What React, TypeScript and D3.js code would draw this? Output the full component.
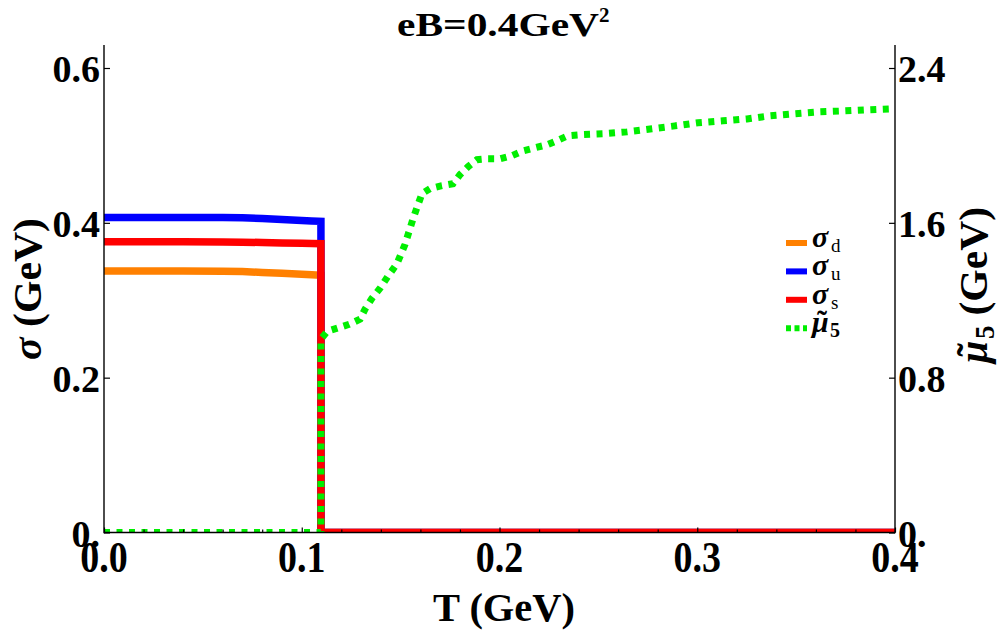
import { useEffect, useRef } from 'react';
import * as d3 from 'd3';

// sigma curves (GeV) versus T (GeV); the drop at Tc is drawn as a vertical step
const T_SIGMA = [0, 0.02, 0.04, 0.06, 0.07, 0.08, 0.09, 0.1, 0.105, 0.1097, 0.1097, 0.4];
const SIGMA_D = [0.3377, 0.3377, 0.3377, 0.3376, 0.337, 0.336, 0.3348, 0.3335, 0.3328, 0.3322, 0, 0];
const SIGMA_U = [0.407, 0.407, 0.407, 0.407, 0.4066, 0.4055, 0.4043, 0.403, 0.4025, 0.402, 0, 0];
const SIGMA_S = [0.3755, 0.3755, 0.3755, 0.3754, 0.375, 0.3746, 0.3741, 0.3736, 0.3733, 0.373, 0, 0];

// mu5 tilde (GeV) versus T (GeV)
const T_MU = [
  0, 0.1097, 0.1097, 0.113, 0.118, 0.124, 0.1295, 0.132, 0.1355, 0.1396, 0.1436, 0.1482, 0.1522, 0.1563, 0.1588,
  0.1608, 0.1649, 0.1709, 0.1765, 0.18, 0.1841, 0.1886, 0.1942, 0.2003, 0.2063, 0.2119, 0.218, 0.224, 0.229, 0.2346,
  0.2407, 0.2523, 0.2645, 0.2771, 0.2887, 0.3004, 0.313, 0.3252, 0.3368, 0.3484, 0.3611, 0.3737, 0.3858, 0.4,
];
const MU_5 = [
  0, 0, 1.0, 1.04, 1.056, 1.076, 1.102, 1.154, 1.21, 1.262, 1.324, 1.39, 1.488, 1.622, 1.694, 1.751, 1.777, 1.792,
  1.802, 1.849, 1.89, 1.926, 1.931, 1.931, 1.947, 1.972, 1.988, 2.003, 2.024, 2.05, 2.055, 2.06, 2.07, 2.086, 2.101,
  2.117, 2.127, 2.137, 2.153, 2.163, 2.173, 2.178, 2.184, 2.19,
];

const X_TICKS = [0, 0.1, 0.2, 0.3, 0.4];
const X_TICK_LABELS = ['0.0', '0.1', '0.2', '0.3', '0.4'];
const X_MINOR_TICKS = [0.02, 0.04, 0.06, 0.08, 0.12, 0.14, 0.16, 0.18, 0.22, 0.24, 0.26, 0.28, 0.32, 0.34, 0.36, 0.38];
const SIGMA_TICKS = [0, 0.2, 0.4, 0.6];
const SIGMA_TICK_LABELS = ['0.', '0.2', '0.4', '0.6'];
const MU_TICKS = [0, 0.8, 1.6, 2.4];
const MU_TICK_LABELS = ['0.', '0.8', '1.6', '2.4'];

const FONT = "'Liberation Serif', 'Times New Roman', serif";
const GREEN = '#00ee00';

type TextParent = d3.Selection<SVGGElement, unknown, null, undefined>;

// mu with a tilde placed above it, then a subscript; returns the x where the subscript ends
function drawMuTilde(parent: TextParent, x0: number, size: number, subSize: number, subDy: number, sub: string) {
  parent.append('text').attr('x', x0).attr('y', 0).attr('font-size', size).attr('font-style', 'italic').text('μ');
  parent
    .append('text')
    .attr('x', x0 + size * 0.33)
    .attr('y', -size * 0.05)
    .attr('text-anchor', 'middle')
    .attr('font-size', size)
    .text('˜');
  parent
    .append('text')
    .attr('x', x0 + size * 0.6)
    .attr('y', subDy)
    .attr('font-size', subSize)
    .text(sub);
  return x0 + size * 0.6 + subSize * 0.5;
}

export default function App() {
  const svgRef = useRef<SVGSVGElement | null>(null);

  useEffect(() => {
    const svgElement = svgRef.current;
    if (!svgElement) {
      return;
    }
    const svg = d3.select(svgElement);
    svg.selectAll('*').remove();

    const left = 104;
    const right = 895;
    const top = 45;
    const bottom = 532.5;

    const x = d3.scaleLinear().domain([0, 0.4]).range([left, right]);
    const ySigma = d3.scaleLinear().domain([0, 0.6]).range([bottom, 68]);
    const yMu = d3.scaleLinear().domain([0, 2.4]).range([bottom, 68]);

    svg
      .append('defs')
      .append('clipPath')
      .attr('id', 'plot-clip')
      .append('rect')
      .attr('x', left)
      .attr('y', top)
      .attr('width', right - left)
      .attr('height', bottom - top);

    const plot = svg.append('g').attr('clip-path', 'url(#plot-clip)');

    const sigmaLine = d3
      .line<number>()
      .x((_, i) => x(T_SIGMA[i]))
      .y((d) => ySigma(d));
    const muLine = d3
      .line<number>()
      .x((_, i) => x(T_MU[i]))
      .y((d) => yMu(d));

    const series = [
      { key: 'd', color: '#ff8000', values: SIGMA_D },
      { key: 'u', color: '#0000ff', values: SIGMA_U },
      { key: 's', color: '#ff0000', values: SIGMA_S },
    ];

    plot
      .selectAll('path.sigma')
      .data(series)
      .join('path')
      .attr('class', 'sigma')
      .attr('fill', 'none')
      .attr('stroke', (d) => d.color)
      .attr('stroke-width', 7.5)
      .attr('d', (d) => sigmaLine(d.values));

    plot
      .append('path')
      .attr('fill', 'none')
      .attr('stroke', GREEN)
      .attr('stroke-width', 7)
      .attr('stroke-dasharray', '6 6.5')
      .attr('d', muLine(MU_5));

    // axes
    const axisColor = '#000';
    const frame = svg.append('g').attr('stroke', axisColor).attr('stroke-width', 1.4);
    frame.append('line').attr('x1', left).attr('x2', left).attr('y1', top).attr('y2', bottom + 0.7);
    frame.append('line').attr('x1', right).attr('x2', right).attr('y1', top).attr('y2', bottom + 0.7);
    frame.append('line').attr('x1', left).attr('x2', right).attr('y1', bottom).attr('y2', bottom);

    const tickGroup = (axis: d3.Axis<d3.NumberValue>, transform: string) => {
      const g = svg.append('g').attr('transform', transform).call(axis);
      g.select('.domain').remove();
      g.selectAll('text').remove();
      g.selectAll('line').attr('stroke', axisColor).attr('stroke-width', 1.2);
      return g;
    };

    tickGroup(d3.axisLeft(ySigma).tickValues(SIGMA_TICKS).tickSize(-6), `translate(${left},0)`);
    tickGroup(d3.axisRight(yMu).tickValues(MU_TICKS).tickSize(-6), `translate(${right},0)`);
    tickGroup(d3.axisBottom(x).tickValues(X_TICKS).tickSize(-5), `translate(0,${bottom})`);
    tickGroup(d3.axisBottom(x).tickValues(X_MINOR_TICKS).tickSize(-3), `translate(0,${bottom})`);

    const labels = svg.append('g').attr('font-family', FONT).attr('font-weight', 'bold').attr('fill', '#000');

    labels
      .selectAll('text.y-left')
      .data(SIGMA_TICKS)
      .join('text')
      .attr('class', 'y-left')
      .attr('x', left - 4)
      .attr('y', (d) => ySigma(d) + 14)
      .attr('text-anchor', 'end')
      .attr('font-size', 38)
      .text((_, i) => SIGMA_TICK_LABELS[i]);

    labels
      .selectAll('text.y-right')
      .data(MU_TICKS)
      .join('text')
      .attr('class', 'y-right')
      .attr('x', right + 3)
      .attr('y', (d) => yMu(d) + 14)
      .attr('text-anchor', 'start')
      .attr('font-size', 38)
      .text((_, i) => MU_TICK_LABELS[i]);

    labels
      .selectAll('text.x-tick')
      .data(X_TICKS)
      .join('text')
      .attr('class', 'x-tick')
      .attr('transform', (d) => `translate(${x(d)},572) scale(1,1.15)`)
      .attr('text-anchor', 'middle')
      .attr('font-size', 38)
      .text((_, i) => X_TICK_LABELS[i]);

    // title
    labels
      .append('text')
      .attr('x', 397)
      .attr('y', 36)
      .attr('font-size', 34)
      .attr('textLength', 202)
      .attr('lengthAdjust', 'spacingAndGlyphs')
      .text('eB=0.4GeV');
    labels.append('text').attr('x', 599).attr('y', 22).attr('font-size', 21).text('2');

    // axis titles
    labels
      .append('text')
      .attr('x', 504)
      .attr('y', 621)
      .attr('text-anchor', 'middle')
      .attr('font-size', 40)
      .attr('textLength', 142)
      .attr('lengthAdjust', 'spacingAndGlyphs')
      .text('T (GeV)');

    const leftTitle = labels
      .append('text')
      .attr('transform', 'translate(41,289) rotate(-90)')
      .attr('text-anchor', 'middle')
      .attr('font-size', 40)
      .attr('textLength', 142)
      .attr('lengthAdjust', 'spacingAndGlyphs');
    leftTitle.append('tspan').attr('font-style', 'italic').text('σ');
    leftTitle.append('tspan').text(' (GeV)');

    const rightTitle = labels.append('g').attr('transform', 'translate(987,285) rotate(-90)');
    const subEnd = drawMuTilde(rightTitle, -78, 40, 27, 7, '5') + 10;
    rightTitle
      .append('text')
      .attr('x', subEnd)
      .attr('y', 0)
      .attr('font-size', 40)
      .attr('textLength', 78 - subEnd)
      .attr('lengthAdjust', 'spacingAndGlyphs')
      .text('(GeV)');

    // legend
    const legendItems = [
      { sub: 'd', color: '#ff8000', dashed: false },
      { sub: 'u', color: '#0000ff', dashed: false },
      { sub: 's', color: '#ff0000', dashed: false },
      { sub: '5', color: GREEN, dashed: true },
    ];
    const legend = svg.append('g').attr('transform', 'translate(786,243)');
    legendItems.forEach((item, i) => {
      const row = legend.append('g').attr('transform', `translate(0,${i * 28.4})`);
      row
        .append('line')
        .attr('x1', 0)
        .attr('x2', 21)
        .attr('y1', 0)
        .attr('y2', 0)
        .attr('stroke', item.color)
        .attr('stroke-width', 6)
        .attr('stroke-dasharray', item.dashed ? '5 3.5' : null);
      const textGroup = row
        .append('g')
        .attr('transform', 'translate(26,4)')
        .attr('font-family', FONT)
        .attr('font-weight', 'bold');
      if (item.dashed) {
        drawMuTilde(textGroup, 0, 30, 20, 5, item.sub);
      } else {
        textGroup.append('text').attr('x', 0).attr('y', 0).attr('font-size', 30).attr('font-style', 'italic').text('σ');
        textGroup
          .append('text')
          .attr('x', 19)
          .attr('y', 5)
          .attr('font-size', 19)
          .attr('font-weight', 'normal')
          .text(item.sub);
      }
    });
  }, []);

  return (
    <svg
      ref={svgRef}
      width={1000}
      height={634}
      style={{ position: 'absolute', left: 0, top: 0, background: '#fff' }}
      aria-label="sigma and mu5 versus temperature"
    />
  );
}
